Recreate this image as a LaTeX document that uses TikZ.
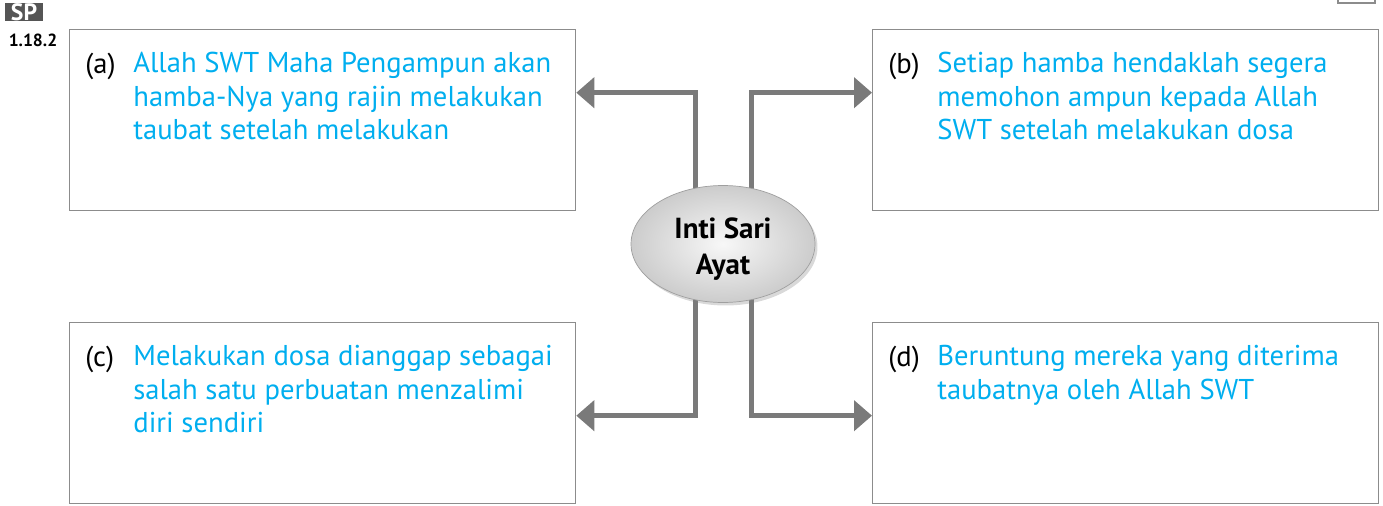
\documentclass[tikz,border=0pt]{standalone}
\usepackage{fontspec}
\setmainfont{PT Sans}
\usetikzlibrary{arrows.meta,shapes.geometric,shadows,backgrounds}

\definecolor{garis}{RGB}{140,140,140}
\definecolor{panah}{RGB}{122,122,122}
\definecolor{biru}{RGB}{0,174,239}
\definecolor{lencana}{RGB}{85,85,85}

\begin{document}
\begin{tikzpicture}[x=0.02cm,y=0.02cm,
        kotak/.style={draw=garis,line width=0.8pt,minimum width=10.12cm,minimum height=3.62cm,anchor=north west,inner sep=0pt},
        teks/.style={anchor=base west,inner sep=0pt,align=left,font=\fontsize{16.3}{19.1}\selectfont},
        isi/.style={teks,anchor=north west,text=biru},
        cabang/.style={draw=panah,line width=0.1cm,-{Triangle[length=0.36cm,width=0.6cm]}}]
    \useasboundingbox (0,0) rectangle (1383,505);

    % penanda halaman
    \node [fill=lencana,text=white,font=\fontsize{13.5}{13.5}\bfseries\selectfont,
        minimum width=0.76cm,minimum height=0.34cm,inner sep=0pt] (sp) at (24,493) {SP};
    \node [font=\fontsize{10}{10}\bfseries\selectfont,inner sep=0pt] (kod) at (33,465) {1.18.2};
    \draw [garis,line width=0.8pt] (1338,515) rectangle (1375,502);

    % kotak
    \node [kotak] (kotakA) at (69,476) {};
    \node [kotak] (kotakB) at (872,476) {};
    \node [kotak] (kotakC) at (69,183) {};
    \node [kotak] (kotakD) at (872,183) {};

    % pusat
    \node [ellipse,minimum width=3.68cm,minimum height=2.34cm,inner sep=0pt,
        draw=gray!75,inner color=gray!6,outer color=gray!40,
        drop shadow={opacity=0.3,shadow xshift=0.05cm,shadow yshift=-0.06cm},
        font=\fontsize{16.5}{20}\bfseries\selectfont,align=center] (inti) at (723,261) {\rule{0pt}{0.62cm}Inti Sari\\Ayat};

    % cabang
    \begin{scope}[on background layer]
        \draw [cabang] ([xshift=-0.56cm]inti.center) |- ([yshift=0.55cm]kotakA.east);
        \draw [cabang] ([xshift=0.56cm]inti.center) |- ([yshift=0.55cm]kotakB.west);
        \draw [cabang] ([xshift=-0.56cm]inti.center) |- ([yshift=-0.05cm]kotakC.east);
        \draw [cabang] ([xshift=0.56cm]inti.center) |- ([yshift=-0.05cm]kotakD.west);
    \end{scope}

    % teks
    \node [teks] (labA) at (85,432) {(a)};
    \node [isi] (isiA) at (133,453) {Allah SWT Maha Pengampun akan\\hamba-Nya yang rajin melakukan\\taubat setelah melakukan};
    \node [teks] (labB) at (888,432) {(b)};
    \node [isi] (isiB) at (937,453) {Setiap hamba hendaklah segera\\memohon ampun kepada Allah\\SWT setelah melakukan dosa};
    \node [teks] (labC) at (85,139) {(c)};
    \node [isi] (isiC) at (133,160) {Melakukan dosa dianggap sebagai\\salah satu perbuatan menzalimi\\diri sendiri};
    \node [teks] (labD) at (888,139) {(d)};
    \node [isi] (isiD) at (937,160) {Beruntung mereka yang diterima\\taubatnya oleh Allah SWT};
\end{tikzpicture}
\end{document}
